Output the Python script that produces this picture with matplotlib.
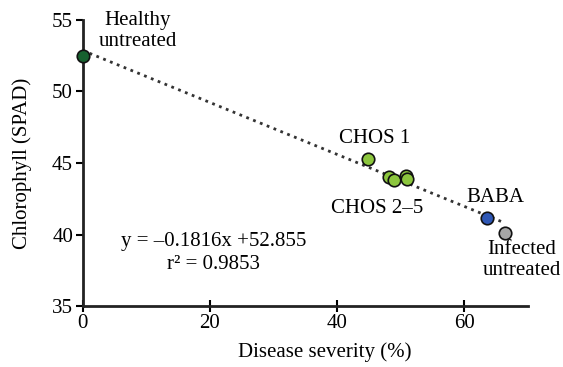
import matplotlib.pyplot as plt
import numpy as np

plt.rcParams['font.family'] = ['Liberation Serif', 'DejaVu Serif']

# values
severity = [0.0, 44.8, 48.2, 49.0, 50.8, 51.0, 63.5, 66.4]
chlorophyll = [52.5, 45.3, 44.0, 43.8, 44.1, 43.9, 41.15, 40.1]
point_colors = ['#17612f', '#8cc63e', '#8cc63e', '#8cc63e', '#8cc63e', '#8cc63e', '#2e57b5', '#a6a6a6']

slope = -0.1816
intercept = 52.855
r_squared = 0.9853

labels = ["Healthy\nuntreated", "CHOS 1", "CHOS 2\u20135", "BABA", "Infected\nuntreated"]
label_pos = [(8.6, 54.2), (45.9, 46.7), (46.2, 41.85), (64.8, 42.6), (69.0, 38.25)]

fs = 15

fig = plt.figure(figsize=(5.63, 3.67), dpi=100)
ax = fig.add_axes([0.147, 0.166, 0.791, 0.78])

xfit = np.array([0, max(severity)])
ax.plot(xfit, slope * xfit + intercept, ':', color='#333333', lw=2.0, zorder=1)

for x, y, c in zip(severity, chlorophyll, point_colors):
    ax.plot(x, y, 'o', ms=9, mfc=c, mec='#111111', mew=1.2, zorder=3, clip_on=False)

for text, (tx, ty) in zip(labels, label_pos):
    ax.text(tx, ty, text, ha='center', va='center', fontsize=fs, linespacing=1.15)

ax.text(20.6, 39.48, "y = \u20130.1816x +52.855", ha='center', va='center', fontsize=fs)
ax.text(20.6, 37.87, "r\u00b2 = %.4f" % r_squared, ha='center', va='center', fontsize=fs)

ax.set_xlim(0, 70)
ax.set_ylim(35, 55)
ax.set_xticks([0, 20, 40, 60])
ax.set_yticks([35, 40, 45, 50, 55])
for s in ['top', 'right']:
    ax.spines[s].set_visible(False)
for s in ['left', 'bottom']:
    ax.spines[s].set_linewidth(2)
    ax.spines[s].set_color('#222222')
ax.tick_params(axis='x', direction='inout', length=8, width=1.5, labelsize=fs, pad=2)
ax.tick_params(axis='y', direction='out', length=5, width=1.5, labelsize=fs, pad=2)
ax.set_xlabel("Disease severity (%)", fontsize=fs)
ax.set_ylabel("Chlorophyll (SPAD)", fontsize=fs)
ax.xaxis.set_label_coords(0.544, -0.125)
ax.yaxis.set_label_coords(-0.115, 0.5)

plt.savefig("out.png", dpi=100)
